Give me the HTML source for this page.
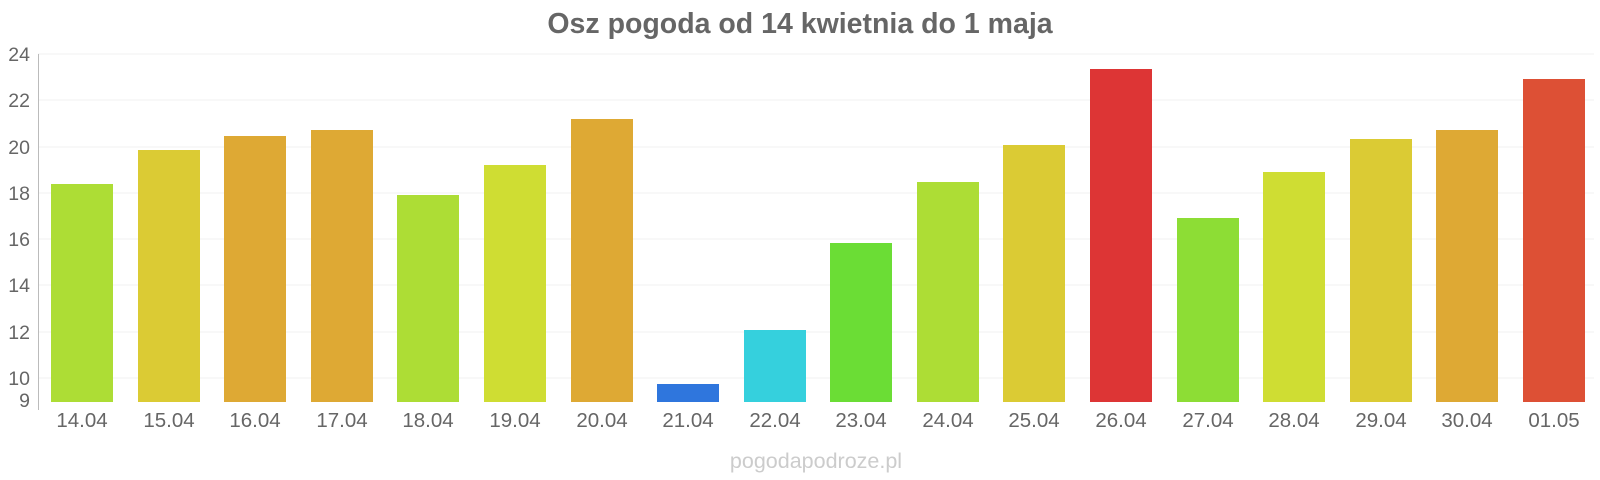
<!DOCTYPE html>
<html><head><meta charset="utf-8"><style>body{margin:0;background:#fff}svg{display:block}</style></head><body>
<svg width="1600" height="480" xmlns="http://www.w3.org/2000/svg" font-family="Liberation Sans, sans-serif">
<text x="800" y="33" text-anchor="middle" font-size="28.5" font-weight="bold" fill="#666">Osz pogoda od 14 kwietnia do 1 maja</text>
<g stroke="#f0f0f0" stroke-width="1">
<line x1="38" x2="1594" y1="54" y2="54"/><line x1="38" x2="1594" y1="100" y2="100"/><line x1="38" x2="1594" y1="147" y2="147"/><line x1="38" x2="1594" y1="193" y2="193"/><line x1="38" x2="1594" y1="239" y2="239"/><line x1="38" x2="1594" y1="285" y2="285"/><line x1="38" x2="1594" y1="332" y2="332"/><line x1="38" x2="1594" y1="378" y2="378"/>
</g>
<line x1="38.5" x2="38.5" y1="54" y2="410" stroke="#bbb"/>
<g font-size="19.5" fill="#666" text-anchor="end">
<text x="30" y="61">24</text><text x="30" y="107">22</text><text x="30" y="154">20</text><text x="30" y="200">18</text><text x="30" y="246">16</text><text x="30" y="292">14</text><text x="30" y="339">12</text><text x="30" y="385">10</text><text x="30" y="407">9</text>
</g>
<g>
<rect x="51" y="184" width="62" height="218" fill="#addd35"/>
<rect x="138" y="150" width="62" height="252" fill="#dbcb34"/>
<rect x="224" y="136" width="62" height="266" fill="#dea934"/>
<rect x="311" y="130" width="62" height="272" fill="#dea934"/>
<rect x="397" y="195" width="62" height="207" fill="#addd35"/>
<rect x="484" y="165" width="62" height="237" fill="#cfdd33"/>
<rect x="571" y="119" width="62" height="283" fill="#dea934"/>
<rect x="657" y="384" width="62" height="18" fill="#2f76dd"/>
<rect x="744" y="330" width="62" height="72" fill="#35d0dd"/>
<rect x="830" y="243" width="62" height="159" fill="#6bdd35"/>
<rect x="917" y="182" width="62" height="220" fill="#addd35"/>
<rect x="1003" y="145" width="62" height="257" fill="#dbcb34"/>
<rect x="1090" y="69" width="62" height="333" fill="#dd3535"/>
<rect x="1177" y="218" width="62" height="184" fill="#8ddd35"/>
<rect x="1263" y="172" width="62" height="230" fill="#cfdd33"/>
<rect x="1350" y="139" width="62" height="263" fill="#dbcb34"/>
<rect x="1436" y="130" width="62" height="272" fill="#dea934"/>
<rect x="1523" y="79" width="62" height="323" fill="#dd5035"/>
</g>
<g font-size="20.5" fill="#666" text-anchor="middle">
<text x="82" y="427">14.04</text><text x="169" y="427">15.04</text><text x="255" y="427">16.04</text><text x="342" y="427">17.04</text><text x="428" y="427">18.04</text><text x="515" y="427">19.04</text><text x="602" y="427">20.04</text><text x="688" y="427">21.04</text><text x="775" y="427">22.04</text><text x="861" y="427">23.04</text><text x="948" y="427">24.04</text><text x="1034" y="427">25.04</text><text x="1121" y="427">26.04</text><text x="1208" y="427">27.04</text><text x="1294" y="427">28.04</text><text x="1381" y="427">29.04</text><text x="1467" y="427">30.04</text><text x="1554" y="427">01.05</text>
</g>
<text x="816" y="468" text-anchor="middle" font-size="21.5" fill="#ccc">pogodapodroze.pl</text>
</svg>
</body></html>
